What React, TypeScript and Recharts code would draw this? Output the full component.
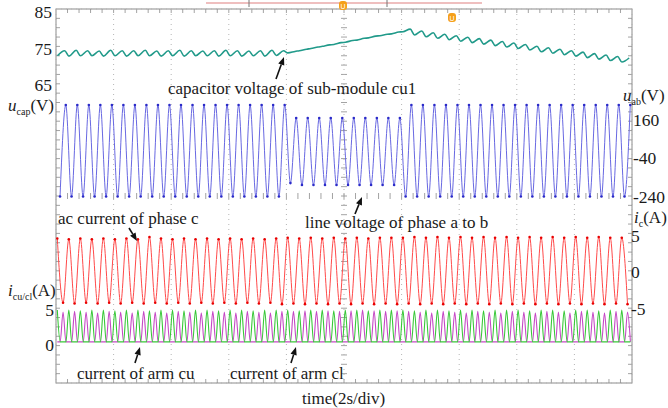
import React from "react";
import { LineChart, Line, XAxis, YAxis, CartesianGrid, ReferenceLine } from "recharts";

// time base: 2 s per division, 10 divisions, 5 fundamental cycles per division
const PERIOD = 0.4;
const timeTicks = [0, 2, 4, 6, 8, 10, 12, 14, 16, 18, 20];
const gridRows = [0, 1, 2, 3, 4, 5, 6, 7, 8];

// axis tick labels
const capTicks = [85, 75, 65];
const uabTicks = [160, -40, -240];
const icTicks = [5, 0, -5];
const armTicks = [5, 0];

// capacitor voltage of sub-module cu1, ripple max / min per cycle (V)
const capHigh = [
  74.4, 74.5, 74.4, 74.3, 74.5, 74.4, 74.4, 74.5, 74.3, 74.4,
  74.5, 74.4, 74.3, 74.4, 74.5, 74.4, 74.3, 74.4, 74.5, 74.4,
  74.2, 74.8, 75.4, 76.0, 76.6, 77.2, 77.8, 78.4, 78.9, 79.5,
  80.3, 79.8, 79.3, 78.9, 78.5, 78.1, 77.7, 77.3, 76.9, 76.5,
  76.1, 75.6, 75.2, 74.8, 74.4, 74.0, 73.6, 73.2, 72.8, 72.4,
];
const capLow = [
  73.0, 72.9, 73.0, 73.0, 72.9, 73.0, 72.9, 73.0, 73.0, 72.9,
  73.0, 72.9, 73.0, 73.0, 72.9, 73.0, 72.9, 73.0, 72.9, 73.1,
  73.8, 74.4, 75.0, 75.6, 76.1, 76.7, 77.3, 77.9, 78.5, 79.0,
  79.6, 78.7, 78.2, 77.8, 77.4, 77.0, 76.6, 76.2, 75.8, 75.4,
  75.0, 74.6, 74.1, 73.7, 73.3, 72.9, 72.5, 72.1, 71.7, 71.3,
];

// line voltage a-b, peak / trough per cycle (V)
const uabPeak = [
  238, 238, 238, 238, 238, 238, 238, 238, 238, 238,
  238, 238, 238, 238, 238, 238, 238, 238, 238, 238,
  170, 170, 170, 170, 170, 170, 170, 170, 170, 170,
  238, 238, 238, 238, 238, 238, 238, 238, 238, 238,
  238, 238, 238, 238, 238, 238, 238, 238, 238, 238,
];
const uabTrough = [
  -240, -240, -240, -240, -240, -240, -240, -240, -240, -240,
  -240, -240, -240, -240, -240, -240, -240, -240, -240, -240,
  -170, -180, -180, -180, -180, -180, -180, -180, -180, -180,
  -240, -240, -240, -240, -240, -240, -240, -240, -240, -240,
  -240, -240, -240, -240, -240, -240, -240, -240, -240, -240,
];

// ac current of phase c, peak / trough per cycle (A)
const icPeak = [
  4.6, 4.5, 4.6, 4.5, 4.6, 4.5, 4.6, 4.5, 4.8, 4.6,
  4.5, 4.6, 4.5, 4.6, 4.5, 4.6, 4.5, 4.6, 4.5, 4.6,
  4.7, 4.6, 4.7, 4.6, 4.7, 4.6, 4.7, 4.6, 4.7, 4.7,
  4.7, 4.8, 4.7, 4.8, 4.7, 4.8, 4.7, 4.8, 4.7, 4.8,
  4.7, 4.8, 4.7, 4.8, 4.7, 4.8, 4.7, 4.8, 4.7, 4.7,
];
const icTrough = [
  -4.2, -4.3, -4.2, -4.3, -4.2, -4.3, -4.2, -4.3, -4.2, -4.3,
  -4.2, -4.3, -4.2, -4.3, -4.2, -4.3, -4.2, -4.3, -4.2, -4.4,
  -4.3, -4.4, -4.3, -4.4, -4.3, -4.4, -4.3, -4.4, -4.3, -4.4,
  -4.3, -4.4, -4.3, -4.4, -4.3, -4.4, -4.3, -4.4, -4.3, -4.4,
  -4.3, -4.4, -4.3, -4.4, -4.3, -4.4, -4.3, -4.4, -4.3, -4.4,
];

// arm currents, pulse peak per cycle (A)
const cuPeak = [
  5.0, 5.0, 4.9, 5.0, 5.0, 4.9, 5.0, 5.0, 4.9, 5.0,
  5.0, 4.9, 5.0, 5.0, 4.9, 5.0, 5.0, 4.9, 5.0, 5.0,
  5.0, 4.9, 5.0, 5.0, 4.9, 5.0, 5.0, 4.9, 5.0, 5.0,
  5.0, 4.9, 5.0, 5.0, 4.9, 5.0, 5.0, 4.9, 5.0, 5.0,
  5.0, 4.9, 5.0, 5.0, 4.9, 5.0, 5.0, 4.9, 5.0, 5.0,
];
const clPeak = [
  4.7, 4.8, 4.7, 4.6, 4.8, 4.7, 4.6, 4.8, 4.7, 4.6,
  4.8, 4.7, 4.6, 4.8, 4.7, 4.6, 4.8, 4.7, 4.6, 4.8,
  4.8, 4.9, 4.8, 4.9, 4.8, 4.9, 5.0, 4.9, 4.8, 4.9,
  4.8, 4.7, 4.6, 4.8, 4.7, 4.6, 4.8, 4.7, 4.6, 4.8,
  4.7, 4.6, 4.8, 4.7, 4.6, 4.8, 4.7, 4.6, 4.8, 4.7,
];
const ARM_BASE = 0.45;

// build point lists (one extreme per half cycle)
const capData = capLow.flatMap((lo, c) => [
  { t: c * PERIOD + 0.05, v: lo },
  { t: c * PERIOD + 0.3, v: capHigh[c] },
]);
const uabData = uabTrough.flatMap((lo, c) => [
  { t: c * PERIOD + 0.14, v: lo },
  { t: c * PERIOD + 0.34, v: uabPeak[c] },
]);
const icData = icPeak.flatMap((hi, c) => [
  { t: c * PERIOD + 0.045, v: hi },
  { t: c * PERIOD + 0.245, v: icTrough[c] },
]);
const cuData = cuPeak.flatMap((hi, c) => [
  { t: c * PERIOD + 0.045, v: hi },
  { t: c * PERIOD + 0.145, v: ARM_BASE },
  { t: c * PERIOD + 0.245, v: ARM_BASE },
  { t: c * PERIOD + 0.345, v: ARM_BASE },
]);
const clData = clPeak.flatMap((hi, c) => [
  { t: c * PERIOD + 0.045, v: ARM_BASE },
  { t: c * PERIOD + 0.145, v: ARM_BASE },
  { t: c * PERIOD + 0.245, v: hi },
  { t: c * PERIOD + 0.345, v: ARM_BASE },
]);

const W = 668;
const H = 408;
const PL = 56;
const PR = 632;
const PT = 9;
const PB = 383;
const SERIF = '"Liberation Serif", "Times New Roman", serif';
const tickStyle = { fill: "#1a1a1a", fontSize: 17.5, fontFamily: SERIF };

function Arrow({ x1, y1, x2, y2 }: { x1: number; y1: number; x2: number; y2: number }) {
  const a = Math.atan2(y2 - y1, x2 - x1);
  const L = 8;
  const w = 3.2;
  const bx = x2 - L * Math.cos(a);
  const by = y2 - L * Math.sin(a);
  const px = -Math.sin(a) * w;
  const py = Math.cos(a) * w;
  return (
    <g>
      <line x1={x1} y1={y1} x2={bx} y2={by} stroke="#111" strokeWidth={1.6} />
      <polygon points={`${x2},${y2} ${bx + px},${by + py} ${bx - px},${by - py}`} fill="#111" />
    </g>
  );
}

function Marker({ x, y }: { x: number; y: number }) {
  return (
    <g>
      <rect x={x - 4} y={y} width={8} height={9} rx={3} fill="#f5a01a" />
      <text x={x} y={y + 7.5} fontSize={7} fill="#fff" textAnchor="middle" fontFamily="Arial">U</text>
    </g>
  );
}

function Backdrop() {
  const dx = (PR - PL) / 50;
  const dy = (PB - PT) / 40;
  const cx = (PL + PR) / 2;
  const cy = PT + ((PB - PT) * 4) / 8;
  const ticks: React.ReactNode[] = [];
  for (let i = 1; i < 50; i++) {
    const x = PL + i * dx;
    ticks.push(<line key={`t${i}`} x1={x} y1={PT} x2={x} y2={PT + 4} />);
    ticks.push(<line key={`b${i}`} x1={x} y1={PB} x2={x} y2={PB - 4} />);
    ticks.push(<line key={`c${i}`} x1={x} y1={cy - 3} x2={x} y2={cy + 3} />);
  }
  for (let i = 1; i < 40; i++) {
    const y = PT + i * dy;
    ticks.push(<line key={`l${i}`} x1={PL} y1={y} x2={PL + 4} y2={y} />);
    ticks.push(<line key={`r${i}`} x1={PR} y1={y} x2={PR - 4} y2={y} />);
    ticks.push(<line key={`m${i}`} x1={cx - 3} y1={y} x2={cx + 3} y2={y} />);
  }
  return (
    <svg width={W} height={H} style={{ position: "absolute", left: 0, top: 0 }}>
      <rect x={0} y={0} width={W} height={H} fill="#fff" />
      <line x1={206} y1={3} x2={482} y2={3} stroke="#e08080" strokeWidth={1.2} />
      <line x1={249} y1={0} x2={249} y2={7} stroke="#777" />
      <line x1={387} y1={0} x2={387} y2={7} stroke="#777" />
      <g stroke="#8c8c8c" strokeWidth={0.8}>{ticks}</g>
      <rect x={PL} y={PT} width={PR - PL} height={PB - PT} fill="none" stroke="#8c8c8c" strokeWidth={1} />
    </svg>
  );
}

function Annotations() {
  const t = { fontFamily: SERIF, fontSize: 17, fill: "#1a1a1a" };
  return (
    <svg width={W} height={H} style={{ position: "absolute", left: 0, top: 0, pointerEvents: "none" }}>
      <Marker x={343} y={1} />
      <Marker x={452} y={13} />
      <text {...t} x={168} y={94}>capacitor voltage of sub-module cu1</text>
      <text {...t} x={58} y={224}>ac current of phase c</text>
      <text {...t} x={305} y={228}>line voltage of phase a to b</text>
      <text {...t} x={77} y={379}>current of arm cu</text>
      <text {...t} x={230} y={379}>current of arm cl</text>
      <text {...t} x={302} y={404}>time(2s/div)</text>
      <text {...t} x={8} y={111}>
        <tspan fontStyle="italic">u</tspan>
        <tspan fontSize={10} dy={4}>cap</tspan>
        <tspan dy={-4}>(V)</tspan>
      </text>
      <text {...t} x={623} y={101}>
        <tspan fontStyle="italic">u</tspan>
        <tspan fontSize={10} dy={4}>ab</tspan>
        <tspan dy={-4}>(V)</tspan>
      </text>
      <text {...t} x={634} y={223}>
        <tspan fontStyle="italic">i</tspan>
        <tspan fontSize={10} dy={4}>c</tspan>
        <tspan dy={-4}>(A)</tspan>
      </text>
      <text {...t} x={8} y={296}>
        <tspan fontStyle="italic">i</tspan>
        <tspan fontSize={10} dy={4}>cu/cl</tspan>
        <tspan dy={-4}>(A)</tspan>
      </text>
      <Arrow x1={276} y1={79} x2={284} y2={57} />
      <Arrow x1={129} y1={228} x2={137} y2={241} />
      <Arrow x1={355} y1={214} x2={362} y2={197} />
      <Arrow x1={135} y1={363} x2={140} y2={347} />
      <Arrow x1={291} y1={363} x2={296} y2={347} />
    </svg>
  );
}

const axisCommon = {
  type: "number" as const,
  interval: 0 as const,
  width: 1,
  axisLine: false,
  tickLine: false,
  tickSize: 0,
  tick: tickStyle,
  allowDataOverflow: true,
};

export default function App() {
  return (
    <div style={{ position: "absolute", left: 0, top: 0, width: W, height: H, background: "#fff" }}>
      <Backdrop />
      <div style={{ position: "absolute", left: 0, top: 0 }}>
        <LineChart width={W} height={H} margin={{ top: PT, right: W - PR - 2, bottom: H - PB, left: PL - 2 }}>
          <XAxis type="number" dataKey="t" domain={[0, 20]} ticks={timeTicks} allowDataOverflow hide />
          <YAxis yAxisId="grid" type="number" domain={[0, 8]} ticks={gridRows} hide />
          <YAxis yAxisId="cap" orientation="left" domain={[-16.64, 85.82]} ticks={capTicks} tickMargin={3} {...axisCommon} />
          <YAxis yAxisId="arm" orientation="left" domain={[-5.43, 48]} ticks={armTicks} tickMargin={2} {...axisCommon} />
          <YAxis yAxisId="uab" orientation="right" domain={[-1215, 740]} ticks={uabTicks} tickMargin={0} {...axisCommon} />
          <YAxis yAxisId="ic" orientation="right" domain={[-15.2, 36.03]} ticks={icTicks} tickMargin={-1} {...axisCommon} />
          <CartesianGrid yAxisId="grid" stroke="#b5b5b5" strokeDasharray="1 4" />
          <ReferenceLine x={10} yAxisId="grid" stroke="#8c8c8c" />
          <ReferenceLine y={4} yAxisId="grid" stroke="#8c8c8c" />
          <Line yAxisId="arm" data={clData} dataKey="v" type="monotone" stroke="#c548c5" strokeWidth={1.1} dot={false} isAnimationActive={false} />
          <Line yAxisId="arm" data={cuData} dataKey="v" type="monotone" stroke="#38c838" strokeWidth={1.1} dot={false} isAnimationActive={false} />
          <Line yAxisId="ic" data={icData} dataKey="v" type="monotone" stroke="#ff4a4a" strokeWidth={1} dot={{ r: 1.3, fill: "#e80000", stroke: "none" }} isAnimationActive={false} />
          <Line yAxisId="uab" data={uabData} dataKey="v" type="monotone" stroke="#6868e2" strokeWidth={1} dot={{ r: 1.3, fill: "#2a2ac8", stroke: "none" }} isAnimationActive={false} />
          <Line yAxisId="cap" data={capData} dataKey="v" type="monotone" stroke="#219a8a" strokeWidth={1.6} dot={false} isAnimationActive={false} />
        </LineChart>
      </div>
      <Annotations />
    </div>
  );
}
